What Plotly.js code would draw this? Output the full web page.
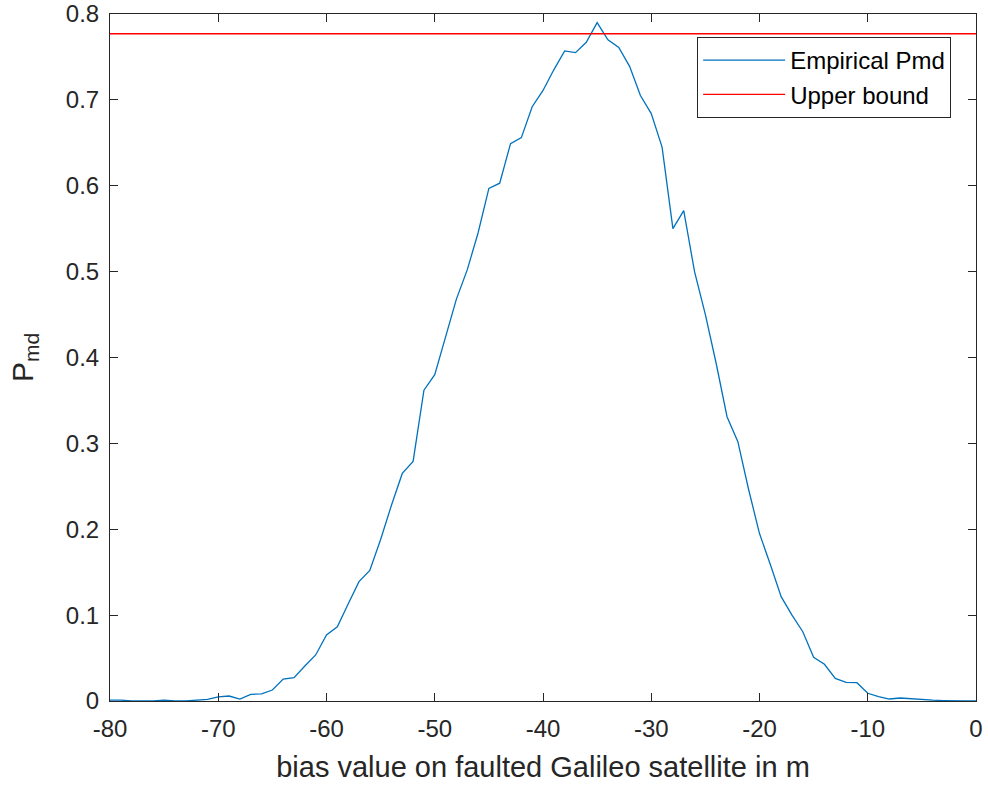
<!DOCTYPE html>
<html>
<head>
<meta charset="utf-8">
<script src="https://cdn.plot.ly/plotly-3.0.1.min.js"></script>
<style>html,body{margin:0;padding:0;background:#fff;}#chart{width:988px;height:786px;}</style>
</head>
<body>
<div id="chart"></div>
<script>
const biasValues = [-80,-79,-78,-77,-76,-75,-74,-73,-72,-71,-70,-69,-68,-67,-66,-65,-64,-63,-62,-61,-60,-59,-58,-57,-56,-55,-54,-53,-52,-51,-50,-49,-48,-47,-46,-45,-44,-43,-42,-41,-40,-39,-38,-37,-36,-35,-34,-33,-32,-31,-30,-29,-28,-27,-26,-25,-24,-23,-22,-21,-20,-19,-18,-17,-16,-15,-14,-13,-12,-11,-10,-9,-8,-7,-6,-5,-4,-3,-2,-1,0];
const empiricalPmd = [0.001,0.001,0,0,0,0.001,0,0,0.001,0.002,0.0047,0.0058,0.0023,0.0078,0.0082,0.0128,0.0256,0.0272,0.0408,0.0536,0.0769,0.0865,0.113,0.139,0.152,0.188,0.228,0.265,0.279,0.362,0.380,0.424,0.468,0.502,0.545,0.597,0.603,0.649,0.656,0.692,0.711,0.735,0.757,0.755,0.767,0.790,0.770,0.761,0.739,0.705,0.684,0.645,0.550,0.571,0.500,0.450,0.393,0.331,0.302,0.246,0.195,0.159,0.1215,0.100,0.0807,0.0509,0.0427,0.0264,0.0218,0.0213,0.009,0.005,0.0023,0.0035,0.0025,0.0015,0.001,0.0005,0,0,0];
const upperBoundX = [-80, 0];
const upperBoundY = [0.777, 0.777];
const xTicks = [-80,-70,-60,-50,-40,-30,-20,-10,0];
const yTicks = [0,0.1,0.2,0.3,0.4,0.5,0.6,0.7,0.8];

const FONT = 'Liberation Sans, Arial, sans-serif';
const traces = [
  {x: biasValues, y: empiricalPmd, type: 'scatter', mode: 'lines', name: 'Empirical Pmd',
   line: {color: '#0072BD', width: 1.3}},
  {x: upperBoundX, y: upperBoundY, type: 'scatter', mode: 'lines', name: 'Upper bound',
   line: {color: '#FF0000', width: 1.3}}
];
const axisCommon = {
  showline: true, mirror: 'ticks', linecolor: '#262626', linewidth: 1,
  ticks: 'inside', ticklen: 8, tickcolor: '#262626', tickwidth: 1,
  showgrid: false, zeroline: false, automargin: false,
  tickfont: {family: FONT, size: 24, color: '#262626'}
};
const layout = {
  width: 988, height: 786,
  margin: {l: 110, r: 12, t: 14, b: 85},
  paper_bgcolor: '#fff', plot_bgcolor: '#fff',
  showlegend: true,
  legend: {x: 0.678, y: 0.9665, xanchor: 'left', yanchor: 'top',
    bordercolor: '#262626', borderwidth: 1, bgcolor: '#fff',
    font: {family: FONT, size: 24, color: '#000'},
    itemwidth: 82, tracegroupgap: 0},
  xaxis: Object.assign({}, axisCommon, {range: [-80, 0], tickvals: xTicks, ticktext: xTicks.map(String),
    ticklabelstandoff: 6,
    title: {text: 'bias value on faulted Galileo satellite in m', standoff: 15,
      font: {family: FONT, size: 29, color: '#262626'}}}),
  yaxis: Object.assign({}, axisCommon, {range: [0, 0.8], tickvals: yTicks, ticktext: yTicks.map(String),
    ticklabelstandoff: 5,
    title: {text: 'P<sub>md</sub>', standoff: 23,
      font: {family: FONT, size: 30, color: '#262626'}}})
};
Plotly.newPlot('chart', traces, layout, {displayModeBar: false});
</script>
</body>
</html>
